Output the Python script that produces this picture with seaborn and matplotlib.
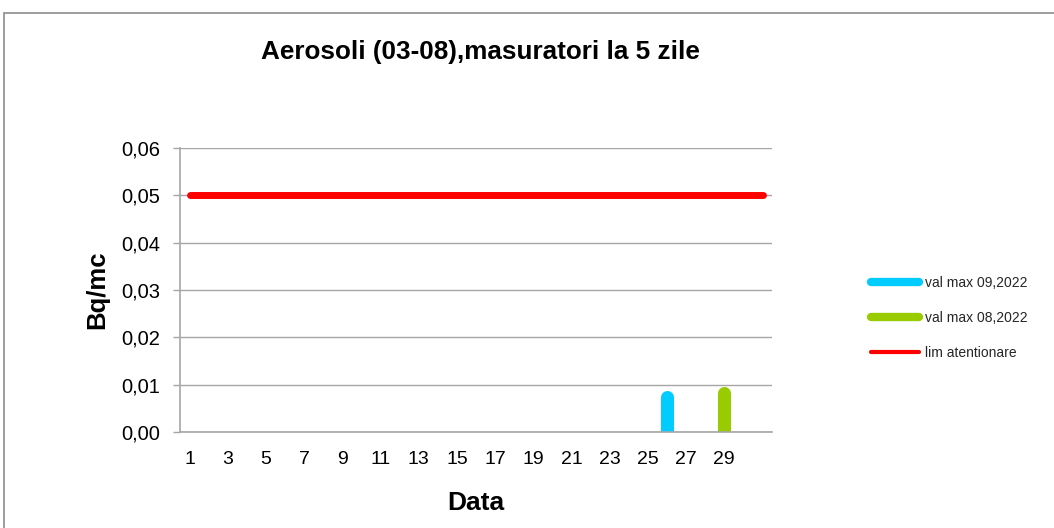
import numpy as np
import pandas as pd
import matplotlib
matplotlib.use("Agg")
import matplotlib.pyplot as plt
import seaborn as sns
from matplotlib.patches import Rectangle
from matplotlib.ticker import FuncFormatter, MultipleLocator

# days of month on the category axis
days = list(range(1, 32))
tick_days = list(range(1, 30, 2))
# attention limit, constant over the month
lim_atentionare = [0.05] * len(days)
# single maxima, each drawn as a stick from zero up to the value
sep_day, sep_val = 26, 0.0075
aug_day, aug_val = 29, 0.0082

sns.set_theme(style="white")
plt.rcParams["font.family"] = ["Liberation Sans", "DejaVu Sans"]

fig = plt.figure(figsize=(10.54, 5.28), dpi=100)
ax = fig.add_axes([0.1708, 0.1818, 0.5617, 0.5379])

# chart area frame, like the spreadsheet export
fig.patches.append(Rectangle((4 / 1054, -0.1), 1.2, 1 - 13 / 528 + 0.1,
                             transform=fig.transFigure, fill=False,
                             edgecolor="#8c8c8c", linewidth=1.2))

df_sep = pd.DataFrame({"x": [sep_day, sep_day], "y": [0, sep_val]})
df_aug = pd.DataFrame({"x": [aug_day, aug_day], "y": [0, aug_val]})
df_lim = pd.DataFrame({"x": days, "y": lim_atentionare})

sns.lineplot(data=df_sep, x="x", y="y", ax=ax, color="#00ccff",
             linewidth=9.4, solid_capstyle="round", label="val max 09,2022",
             estimator=None, sort=False)
sns.lineplot(data=df_aug, x="x", y="y", ax=ax, color="#99cc00",
             linewidth=9.4, solid_capstyle="round", label="val max 08,2022",
             estimator=None, sort=False)
sns.lineplot(data=df_lim, x="x", y="y", ax=ax, color="#ff0000",
             linewidth=5, solid_capstyle="round", label="lim atentionare")

ax.set_xlim(0.5, 31.5)
ax.set_ylim(0, 0.06)
ax.yaxis.set_major_locator(MultipleLocator(0.01))
ax.yaxis.set_major_formatter(FuncFormatter(lambda v, p: f"{v:.2f}".replace(".", ",")))
ax.set_xticks(tick_days)
ax.set_xticklabels([str(d) for d in tick_days])
ax.grid(axis="y", color="#a6a6a6", linewidth=1)
ax.set_axisbelow(True)

for s in ["top", "right"]:
    ax.spines[s].set_visible(False)
for s in ["left", "bottom"]:
    ax.spines[s].set_color("#a6a6a6")
    ax.spines[s].set_linewidth(1.2)

ax.tick_params(axis="y", left=True, length=5, width=1, color="#a6a6a6",
               labelsize=14.5, pad=9, labelcolor="black")
ax.tick_params(axis="x", bottom=False, length=0, labelsize=14, pad=14,
               labelcolor="black")

ax.set_xlabel("Data", fontsize=19, fontweight="bold", labelpad=16, color="black")
ax.set_ylabel("Bq/mc", fontsize=18.5, fontweight="bold", labelpad=9, color="black")
fig.text(0.456, 1 - 52 / 528, "Aerosoli (03-08),masuratori la 5 zile",
         ha="center", va="center", fontsize=18.8, fontweight="bold", color="black")

leg = ax.legend(loc="center left", bbox_to_anchor=(858 / 1054, 1 - 318 / 528),
                bbox_transform=fig.transFigure, frameon=False, fontsize=10,
                handlelength=3.5, labelspacing=1.5, handletextpad=0.4)
for line, lw in zip(leg.get_lines(), [6, 6, 3]):
    line.set_linewidth(lw)
    line.set_solid_capstyle("round")

fig.savefig("out.png", dpi=100)
